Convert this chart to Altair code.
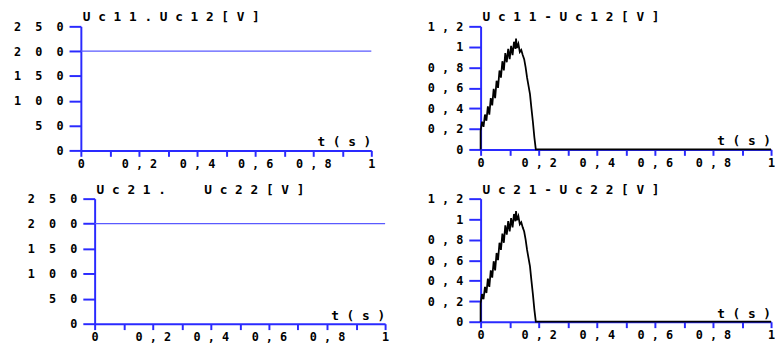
import altair as alt
import pandas as pd

# ---- data ----
t_const = [0.0, 1.0]
uc11_uc12 = [200, 200]
uc21_uc22 = [200, 200]

t_diff = [0.000, 0.000, 0.005, 0.010, 0.015, 0.020, 0.025, 0.030, 0.035, 0.040,
          0.045, 0.050, 0.055, 0.060, 0.065, 0.070, 0.075, 0.080, 0.085, 0.090,
          0.095, 0.100, 0.105, 0.110, 0.115, 0.120, 0.122, 0.125, 0.130, 0.135,
          0.140, 0.145, 0.150, 0.155, 0.160, 0.165, 0.170, 0.175, 0.180, 0.185,
          0.190, 1.000]
diff1 = [0.00, 0.18, 0.27, 0.22, 0.34, 0.28, 0.42, 0.34, 0.50, 0.43,
         0.59, 0.50, 0.67, 0.60, 0.77, 0.70, 0.86, 0.77, 0.94, 0.85,
         0.98, 0.88, 1.01, 0.92, 1.05, 0.98, 1.08, 0.99, 1.03, 0.95,
         0.97, 0.92, 0.88, 0.80, 0.70, 0.62, 0.54, 0.40, 0.27, 0.12,
         0.00, 0.00]
diff2 = list(diff1)

x_ticks = [0, 0.1, 0.2, 0.3, 0.4, 0.5, 0.6, 0.7, 0.8, 0.9, 1]
y_ticks_left = [0, 50, 100, 150, 200, 250]
y_ticks_right = [0, 0.2, 0.4, 0.6, 0.8, 1, 1.2]

titles = ["Uc11.Uc12[V]", "Uc11-Uc12[V]", "Uc21.  Uc22[V]", "Uc21-Uc22[V]"]
x_label = "t(s)"

# ---- style ----
FONT = "DejaVu Sans Mono"
NB = "\u00a0"
BLUE = "#2a2aff"
LINE_BLUE = "#5a5aff"
W = 295


def spaced(s, sep=NB):
    return sep.join(list(s.replace(" ", NB)))


def lab_expr(sep, only_even=False):
    base = "join(split(replace(format(datum.value, '~g'), '.', ','), ''), '%s')" % sep
    if only_even:
        return "round(datum.value*10) %% 2 == 0 ? %s : ''" % base
    return base


def panel(title, t, v, ymax, yticks, h, color, sw, ysep, shift=0):
    df = pd.DataFrame({"t": t, "v": v})
    xscale = alt.Scale(domain=[0, 1], nice=False, zero=False)
    if shift:
        xscale = alt.Scale(domain=[0, 1], nice=False, zero=False, range=[shift, W + shift])
    xenc = alt.X("t:Q", scale=xscale,
                 axis=alt.Axis(values=x_ticks, labelExpr=lab_expr(NB, True), title=None,
                               grid=False, domainColor=BLUE, domainWidth=2,
                               tickColor=BLUE, tickWidth=2, tickSize=6,
                               labelFont=FONT, labelFontWeight="bold", labelFontSize=12,
                               labelColor="black", labelPadding=2, labelFlush=False,
                               labelOverlap=False))
    yenc = alt.Y("v:Q", scale=alt.Scale(domain=[0, ymax], nice=False, zero=True),
                 axis=alt.Axis(values=yticks, labelExpr=lab_expr(ysep), title=None,
                               grid=False, domainColor=BLUE, domainWidth=2,
                               tickColor=BLUE, tickWidth=2, tickSize=12,
                               labelFont=FONT, labelFontWeight="bold", labelFontSize=12,
                               labelColor="black", labelPadding=6, labelFlush=False,
                               labelOverlap=False, offset=-shift))
    line = alt.Chart(df).mark_line(color=color, strokeWidth=sw).encode(
        x=xenc, y=yenc, order="idx:Q"
    ).transform_window(idx="row_number()")
    txt = alt.Chart(pd.DataFrame({"lbl": [spaced(x_label)]})).mark_text(
        align="right", baseline="bottom", font=FONT, fontWeight="bold", fontSize=13,
        color="black"
    ).encode(x=alt.value(W + shift), y=alt.value(h - 1), text="lbl:N")
    return alt.layer(line, txt).properties(
        width=W + shift, height=h,
        title=alt.TitleParams(text=spaced(title), anchor="start", font=FONT,
                              fontSize=13, fontWeight="bold", color="black",
                              offset=-4, dx=2 + shift, frame="group")
    )


tl = panel(titles[0], t_const, uc11_uc12, 250, y_ticks_left, 126, LINE_BLUE, 1.3, NB + NB)
tr = panel(titles[1], t_diff, diff1, 1.2, y_ticks_right, 125, "black", 1.8, NB)
bl = panel(titles[2], t_const, uc21_uc22, 250, y_ticks_left, 127, LINE_BLUE, 1.3, NB + NB,
           shift=14)
br = panel(titles[3], t_diff, diff2, 1.2, y_ticks_right, 125, "black", 1.8, NB)

chart = alt.concat(tl, tr, bl, br, columns=2, bounds="flush",
                   spacing={"column": 97, "row": 49}).configure_view(
    stroke=None
).properties(
    padding={"left": 5, "top": 1, "right": 0, "bottom": 0}, background="white"
)
chart.save("out.html", embed_options={"renderer": "svg", "actions": False})
